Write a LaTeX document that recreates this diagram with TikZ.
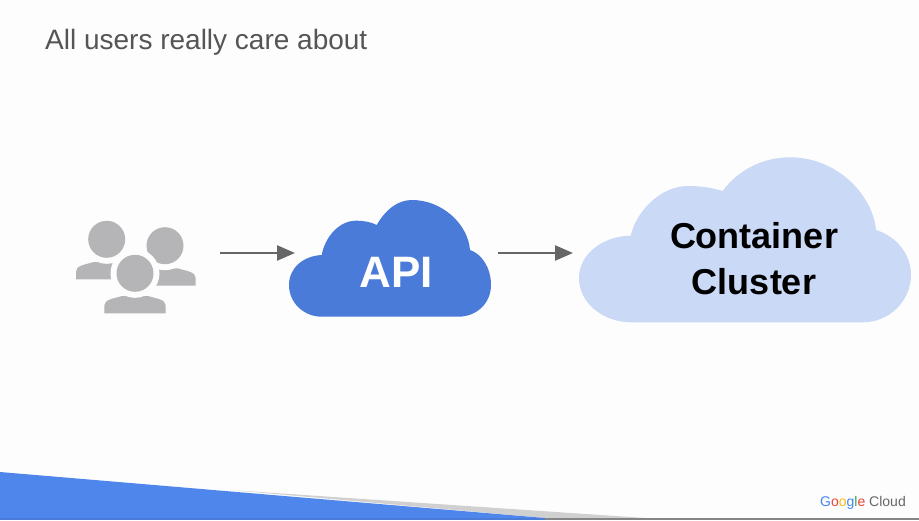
\documentclass[tikz,border=0pt]{standalone}
\usepackage{fontspec}
\setmainfont{Liberation Sans}
\usetikzlibrary{arrows.meta}
\definecolor{slidebg}{HTML}{FDFDFD}
\definecolor{titlegray}{HTML}{555555}
\definecolor{usergray}{HTML}{B5B4B6}
\definecolor{arrowgray}{HTML}{666666}
\definecolor{apiblue}{HTML}{4A7BD8}
\definecolor{clusterblue}{HTML}{C9D9F6}
\definecolor{wedgeblue}{HTML}{4F86EC}
\definecolor{wedgegray}{HTML}{D0D0D0}
\definecolor{gblue}{HTML}{4285F4}
\definecolor{gred}{HTML}{EA4335}
\definecolor{gyellow}{HTML}{FBBC05}
\definecolor{ggreen}{HTML}{34A853}
\tikzset{
    x=1pt,
    y=-1pt,
    areabox/.style={
        inner sep=0pt,
        outer sep=0pt
    },
    flow/.style={
        draw=arrowgray,
        line width=2.4pt,
        -{Triangle[length=18pt,width=15pt]}
    },
    cloudlabel/.style={
        inner sep=0pt,
        align=center,
        font=\bfseries
    }
}
\begin{document}
\begin{tikzpicture}
    \useasboundingbox (0,0) rectangle (919,520);
    \fill[slidebg] (0,0) rectangle (919,520);

    \node[anchor=west, inner sep=0pt, text=titlegray, font=\fontsize{28}{32}\selectfont] (title) at (45,42.5) {All users really care about};

    \foreach \cx/\cy in {106.7/239.3, 165/245.7, 135/273.3} {
        \begin{scope}[shift={(\cx,\cy)}]
            \fill[usergray] (-30.7,40) -- (-30.7,32) .. controls (-30.7,26) and (-20,25) .. (-13,22.7) -- (13,22.7) .. controls (20,25) and (30.7,26) .. (30.7,32) -- (30.7,40) -- cycle;
            \fill[slidebg] (0,0) circle (24.5);
            \fill[usergray] (0,0) circle (18.5);
        \end{scope}
    }
    \node[areabox, minimum width=120pt, minimum height=92pt] (users) at (136,268) {};

    \fill[apiblue] (321.7,316.7) .. controls (304,316.7) and (289,303) .. (289,285) .. controls (289,268) and (303,256) .. (321.7,255) .. controls (325,237) and (339,220.7) .. (356,220.7) .. controls (364,220.7) and (371,222) .. (376.7,225) .. controls (386,209) and (398,200) .. (412,200) .. controls (442,200) and (468,224) .. (470,250) .. controls (482,254) and (491,268) .. (491,285) .. controls (491,303) and (477,316.7) .. (458,316.7) -- cycle;
    \node[areabox, minimum width=202pt, minimum height=117pt] (apicloud) at (390,258.4) {};
    \node[cloudlabel, text=white, font=\bfseries\fontsize{44}{50}\selectfont] (api) at (396,272) {API};

    \fill[clusterblue] (631.7,322.3) .. controls (603,322.3) and (579,303) .. (579,278) .. controls (579,254) and (603,236) .. (630.7,235.7) .. controls (636,212) and (660,186) .. (688,186) .. controls (700,186) and (711,187.5) .. (722.7,191) .. controls (738,170) and (763,157.3) .. (790,157.3) .. controls (838,157.3) and (873,196) .. (876,230) .. controls (896,236) and (911,254) .. (911,275) .. controls (911,301) and (889,322.3) .. (863,322.3) -- cycle;
    \node[areabox, minimum width=332pt, minimum height=165pt] (clustercloud) at (745,239.8) {};
    \node[cloudlabel, text=black, font=\bfseries\fontsize{36}{46}\selectfont] (cluster) at (754,259) {Container\\Cluster};

    \draw[flow, shorten <=24pt, shorten >=-6pt] ([yshift=15pt]users.east) -- ([yshift=5.4pt]apicloud.west);
    \draw[flow, shorten <=7pt, shorten >=6pt] ([yshift=5.4pt]apicloud.east) -- ([yshift=-13.2pt]clustercloud.west);

    \fill[wedgegray] (230,490) -- (645,518) -- (545,518) -- cycle;
    \fill[wedgeblue] (0,472) -- (545,518) -- (0,518) -- cycle;
    \fill[arrowgray!80] (545,518) rectangle (919,520);
    \fill[apiblue] (0,518) rectangle (545,520);

    \node[anchor=east, inner sep=0pt, font=\fontsize{14}{16}\selectfont] (logo) at (906,503) {\textcolor{gblue}{G}\textcolor{gred}{o}\textcolor{gyellow}{o}\textcolor{gblue}{g}\textcolor{ggreen}{l}\textcolor{gred}{e} \textcolor{arrowgray}{Cloud}};
\end{tikzpicture}
\end{document}
